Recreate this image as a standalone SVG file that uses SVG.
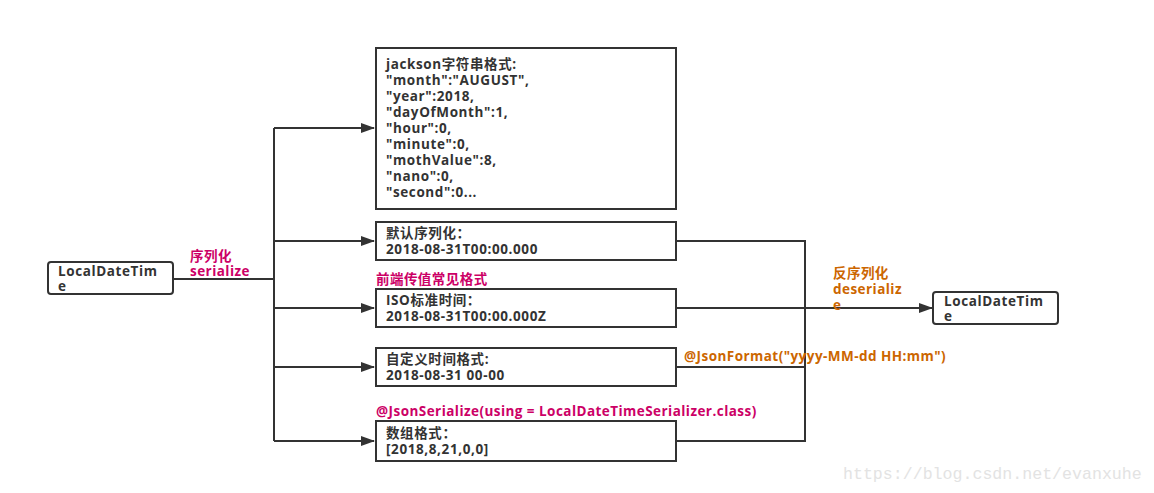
<svg xmlns="http://www.w3.org/2000/svg" width="1154" height="493" viewBox="0 0 1154 493">
<defs>
<style>
.box{fill:#fff;stroke:#333;stroke-width:2}
.t,.m,.o{font-family:"Open Sans","Noto Sans CJK SC",sans-serif;font-weight:bold;font-size:13.5px;letter-spacing:0.45px}
.t{fill:#333;letter-spacing:0.6px}
.m{fill:#cc0066}
.o{fill:#cc6600}
.ln{fill:none;stroke:#333;stroke-width:2}
.wm{font-family:"Liberation Mono","DejaVu Sans Mono",monospace;font-size:16.6px;fill:#e3e3e3}
</style>
<marker id="ah" markerWidth="14" markerHeight="10" refX="13" refY="5" orient="auto" markerUnits="userSpaceOnUse">
<path d="M0,0 L14,5 L0,10 Z" fill="#333"/>
</marker>
</defs>
<rect width="1154" height="493" fill="#fff"/>
<g id="connectors">
<path class="ln" d="M173,279 H274"/>
<path class="ln" d="M274,128 V441"/>
<path class="ln" d="M274,128 H374" marker-end="url(#ah)"/>
<path class="ln" d="M274,241 H374" marker-end="url(#ah)"/>
<path class="ln" d="M274,308 H374" marker-end="url(#ah)"/>
<path class="ln" d="M274,367 H374" marker-end="url(#ah)"/>
<path class="ln" d="M274,441 H374" marker-end="url(#ah)"/>
<path class="ln" d="M676,241 H805 V441 H676"/>
<path class="ln" d="M676,367 H805"/>
<path class="ln" d="M676,308 H932" marker-end="url(#ah)"/>
</g>
<g id="src">
<rect class="box" x="48" y="262" width="125" height="32" rx="3"/>
<text class="t" x="58" y="276">LocalDateTim</text>
<text class="t" x="58" y="291">e</text>
</g>
<g id="jackson">
<rect class="box" x="376" y="48" width="300" height="161"/>
<text class="t" x="386" y="69">jackson字符串格式:</text>
<text class="t" x="386" y="85">"month":"AUGUST",</text>
<text class="t" x="386" y="101">"year":2018,</text>
<text class="t" x="386" y="117">"dayOfMonth":1,</text>
<text class="t" x="386" y="133">"hour":0,</text>
<text class="t" x="386" y="149">"minute":0,</text>
<text class="t" x="386" y="165">"mothValue":8,</text>
<text class="t" x="386" y="181">"nano":0,</text>
<text class="t" x="386" y="197">"second":0...</text>
</g>
<g id="default">
<rect class="box" x="376" y="222" width="300" height="38"/>
<text class="t" x="386" y="238">默认序列化：</text>
<text class="t" x="386" y="254">2018-08-31T00:00.000</text>
</g>
<g id="iso">
<rect class="box" x="376" y="289" width="300" height="38"/>
<text class="t" x="386" y="305">ISO标准时间：</text>
<text class="t" x="386" y="321">2018-08-31T00:00.000Z</text>
</g>
<g id="custom">
<rect class="box" x="376" y="348" width="300" height="38"/>
<text class="t" x="386" y="364">自定义时间格式:</text>
<text class="t" x="386" y="380">2018-08-31 00-00</text>
</g>
<g id="array">
<rect class="box" x="376" y="421" width="300" height="40"/>
<text class="t" x="386" y="438">数组格式：</text>
<text class="t" x="386" y="454">[2018,8,21,0,0]</text>
</g>
<g id="dst">
<rect class="box" x="933" y="292" width="125" height="32" rx="3"/>
<text class="t" x="944" y="306">LocalDateTim</text>
<text class="t" x="944" y="321">e</text>
</g>
<g id="labels">
<text class="m" x="190" y="261">序列化</text>
<text class="m" x="190" y="276">serialize</text>
<text class="m" x="376" y="284">前端传值常见格式</text>
<text class="m" x="376" y="416">@JsonSerialize(using = LocalDateTimeSerializer.class)</text>
<text class="o" x="833" y="278">反序列化</text>
<text class="o" x="833" y="294">deserializ</text>
<text class="o" x="833" y="310">e</text>
<text class="o" x="684" y="361">@JsonFormat("yyyy-MM-dd HH:mm")</text>
<text class="wm" x="843" y="479">https://blog.csdn.net/evanxuhe</text>
</g>
</svg>
